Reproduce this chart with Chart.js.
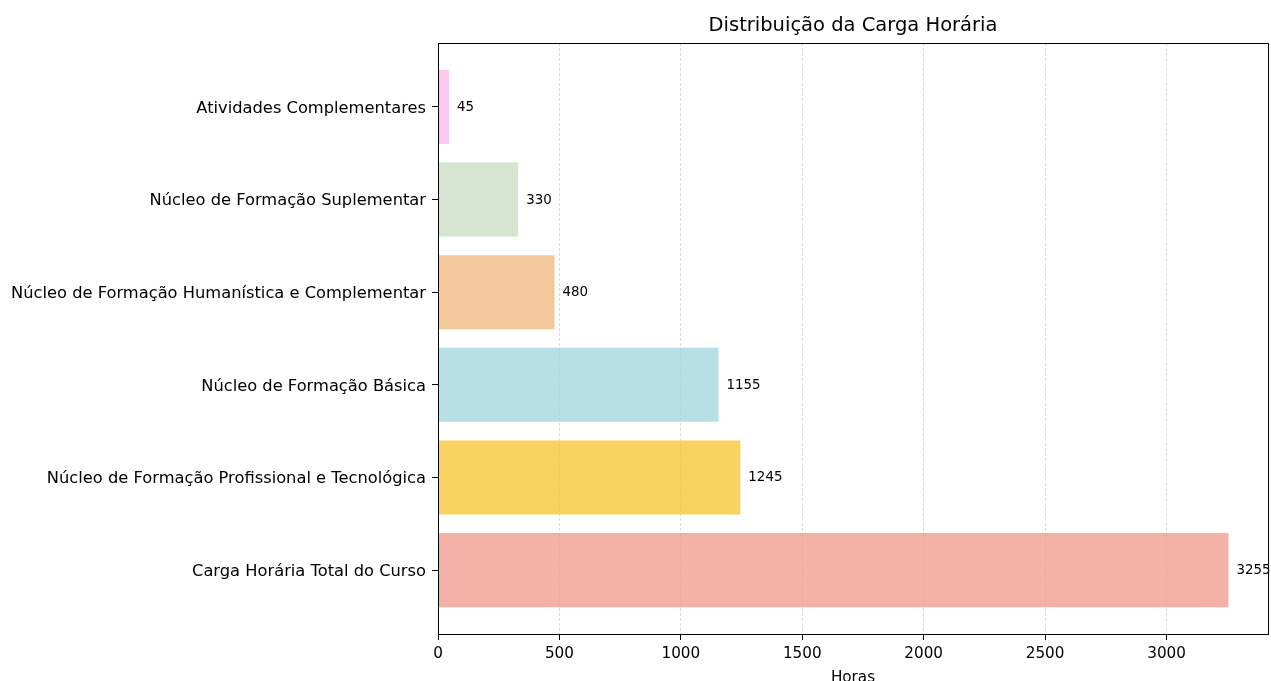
<!DOCTYPE html>
<html>
<head>
<meta charset="utf-8">
<script src="https://cdn.jsdelivr.net/npm/chart.js@4.4.0/dist/chart.umd.min.js"></script>
<style>
  html, body { margin: 0; padding: 0; background: #fff; overflow: hidden; }
</style>
</head>
<body>
<canvas id="myCanvas" width="1271" height="695"></canvas>
<script>
// categories bottom -> top, same order as the original barh call
var categorias = [
    'Carga Horária Total do Curso',
    'Núcleo de Formação Profissional e Tecnológica',
    'Núcleo de Formação Básica',
    'Núcleo de Formação Humanística e Complementar',
    'Núcleo de Formação Suplementar',
    'Atividades Complementares'
];
var horas = [3255, 1245, 1155, 480, 330, 45];
var cores = [
    'rgba(240,152,136,0.75)',
    'rgba(247,195,46,0.75)',
    'rgba(158,214,222,0.75)',
    'rgba(240,182,122,0.75)',
    'rgba(199,220,192,0.75)',
    'rgba(248,182,235,0.75)'
];
var xTicks = [0, 500, 1000, 1500, 2000, 2500, 3000];

const CHART = document.getElementById('myCanvas').getContext('2d');
const FONT = 'DejaVu Sans';

var pontos = [];
for (var i = 0; i < horas.length; i++) {
    pontos.push({x: horas[i], y: i});
}

// value text next to each bar + the full axes frame
var extras = {
    id: 'extras',
    afterDatasetsDraw: function(chart) {
        var ctx = chart.ctx;
        var meta = chart.getDatasetMeta(0);
        ctx.save();
        ctx.font = '13.4px "' + FONT + '"';
        ctx.fillStyle = '#000';
        ctx.textAlign = 'left';
        ctx.textBaseline = 'middle';
        meta.data.forEach(function(bar, i) {
            ctx.fillText(String(horas[i]), bar.x + 8, bar.y + 0.5);
        });
        ctx.restore();
    },
    afterDraw: function(chart) {
        var a = chart.chartArea;
        var ctx = chart.ctx;
        ctx.save();
        ctx.strokeStyle = '#000';
        ctx.lineWidth = 1;
        ctx.strokeRect(Math.round(a.left) + 0.5, Math.round(a.top) + 0.5,
            Math.round(a.right - a.left), Math.round(a.bottom - a.top));
        ctx.restore();
    }
};

var configure = {
    type: 'bar',
    data: {
        datasets: [{
            label: 'Horas',
            data: pontos,
            backgroundColor: cores,
            borderWidth: 0,
            categoryPercentage: 1,
            barPercentage: 0.8
        }]
    },
    plugins: [extras],
    options: {
        indexAxis: 'y',
        responsive: false,
        animation: false,
        layout: { padding: { left: 0, right: 3, top: 0, bottom: 0 } },
        plugins: {
            legend: { display: false },
            tooltip: { enabled: false },
            title: {
                display: true,
                fullSize: false,
                text: 'Distribuição da Carga Horária',
                color: '#000',
                font: { family: FONT, size: 19.5, weight: 'normal', lineHeight: 1.2 },
                padding: { top: 14.5, bottom: 5.1 }
            }
        },
        scales: {
            x: {
                type: 'linear',
                min: 0,
                max: 3417.75,
                afterBuildTicks: function(scale) {
                    scale.ticks = xTicks.map(function(v) { return {value: v}; });
                },
                afterFit: function(scale) { scale.height = 695 - 634; },
                ticks: {
                    color: '#000',
                    padding: 4.5,
                    font: { family: FONT, size: 15.2 },
                    callback: function(v) { return String(v); }
                },
                grid: {
                    color: 'rgba(150,150,150,0.45)',
                    lineWidth: 0.8,
                    tickLength: 6,
                    tickColor: '#000',
                    tickWidth: 1
                },
                border: { display: false, dash: [3, 2] },
                title: {
                    display: true,
                    text: 'Horas',
                    color: '#000',
                    font: { family: FONT, size: 15.2 },
                    padding: { top: 0, bottom: 8 }
                }
            },
            y: {
                type: 'linear',
                min: -0.69,
                max: 5.69,
                offset: false,
                afterBuildTicks: function(scale) {
                    scale.ticks = categorias.map(function(c, i) { return {value: i}; });
                },
                afterFit: function(scale) { scale.width = 438; },
                ticks: {
                    color: '#000',
                    padding: 6,
                    labelOffset: 1.5,
                    font: { family: FONT, size: 16.3 },
                    callback: function(v) { return categorias[v]; }
                },
                grid: {
                    offset: false,
                    drawOnChartArea: false,
                    tickLength: 6,
                    tickColor: '#000',
                    tickWidth: 1
                },
                border: { display: false }
            }
        }
    }
};

window.barChart = new Chart(CHART, configure);
</script>
</body>
</html>
